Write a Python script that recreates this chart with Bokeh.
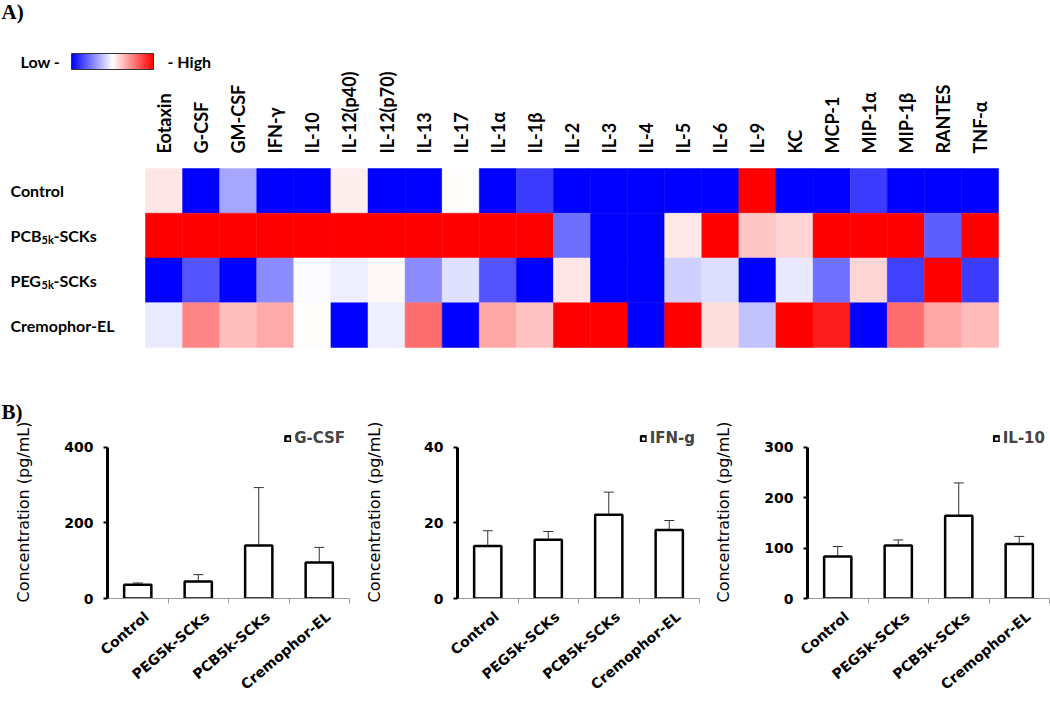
import math
from bokeh.plotting import figure
from bokeh.models import (ColumnDataSource, Range1d, LinearColorMapper, ColorBar,
                          FixedTicker, Label, Whisker, TeeHead, Legend, LegendItem)
from bokeh.layouts import column, row
from bokeh.embed import file_html
from bokeh.resources import INLINE

# ---------------- data ----------------
cytokines = ["Eotaxin", "G-CSF", "GM-CSF", "IFN-\u03b3", "IL-10", "IL-12(p40)", "IL-12(p70)",
             "IL-13", "IL-17", "IL-1\u03b1", "IL-1\u03b2", "IL-2", "IL-3", "IL-4", "IL-5", "IL-6",
             "IL-9", "KC", "MCP-1", "MIP-1\u03b1", "MIP-1\u03b2", "RANTES", "TNF-\u03b1"]
conditions = ["Control", "PCB5k-SCKs", "PEG5k-SCKs", "Cremophor-EL"]
condition_parts = [("Control", "", ""), ("PCB", "5k", "-SCKs"), ("PEG", "5k", "-SCKs"), ("Cremophor-EL", "", "")]

heat_control = [0.1, -1, -0.35, -1, -1, 0.07, -1, -1, 0.01, -1, -0.76,
                -1, -1, -1, -1, -1, 1, -1, -1, -0.76, -1, -1, -1]
heat_pcb = [1, 1, 1, 1, 1, 1, 1, 1, 1, 1, 1,
            -0.57, -1, -1, 0.09, 1, 0.22, 0.17, 1, 1, 1, -0.63, 1]
heat_peg = [-1, -0.67, -1, -0.45, -0.02, -0.07, 0.03, -0.45, -0.12, -0.67, -1,
            0.1, -1, -1, -0.18, -0.13, -1, -0.09, -0.56, 0.16, -0.75, 1, -0.76]
heat_crem = [-0.08, 0.47, 0.25, 0.33, 0.01, -1, -0.07, 0.57, -1, 0.35, 0.24,
             1, 1, -1, 1, 0.13, -0.24, 1, 0.88, -1, 0.57, 0.35, 0.27]

bar_groups = ["Control", "PEG5k-SCKs", "PCB5k-SCKs", "Cremophor-EL"]
gcsf_mean = [36, 45, 140, 95]
gcsf_err = [5, 18, 153, 40]
ifng_mean = [13.9, 15.5, 22.1, 18.1]
ifng_err = [4.0, 2.2, 6.0, 2.5]
il10_mean = [83, 105, 164, 108]
il10_err = [20, 11, 65, 15]

# ---------------- heatmap ----------------
n_cols = len(cytokines)
n_rows = len(conditions)
HM_W, HM_H = 1050, 395
CELL_L, CELL_R, CELL_T, CELL_B = 145, 998, 168, 347   # pixel box of the cell grid
cw = (CELL_R - CELL_L) / n_cols
rh = (CELL_B - CELL_T) / n_rows
xr = Range1d(-CELL_L / cw, n_cols + (HM_W - CELL_R) / cw)
yr = Range1d(-(HM_H - CELL_B) / rh, n_rows + CELL_T / rh)

xs, ys, vs = [], [], []
for r, vals in enumerate([heat_control, heat_pcb, heat_peg, heat_crem]):
    for c, v in enumerate(vals):
        xs.append(c + 0.5)
        ys.append(n_rows - r - 0.5)
        vs.append(v)
hsrc = ColumnDataSource(dict(x=xs, y=ys, v=vs))

palette = []
for i in range(256):
    t = i / 255 * 2 - 1
    if t < 0:
        c = int(round(255 * (1 + t)))
        palette.append("#%02x%02xff" % (c, c))
    else:
        c = int(round(255 * (1 - t)))
        palette.append("#ff%02x%02x" % (c, c))
mapper = LinearColorMapper(palette=palette, low=-1, high=1)

HEAD = "Lato"
hm = figure(width=HM_W, height=HM_H, x_range=xr, y_range=yr,
            x_axis_location=None, y_axis_location=None,
            toolbar_location=None, output_backend="svg",
            min_border=0, outline_line_color=None)
hm.rect(x="x", y="y", width=1, height=1, source=hsrc,
        fill_color={"field": "v", "transform": mapper},
        line_color={"field": "v", "transform": mapper}, line_width=0.5)
hm.grid.visible = False


def hlabel(text, x, y, x_off=0, y_off=0, size="16px", font=HEAD, align="left", baseline="middle", angle=0):
    hm.add_layout(Label(x=x, y=y, x_offset=x_off, y_offset=y_off, text=text, text_font=font,
                        text_font_style="bold", text_font_size=size, text_baseline=baseline,
                        text_align=align, angle=angle, text_color="black"))


# column labels (vertical, above the grid)
for i, name in enumerate(cytokines):
    hlabel(name, i + 0.5, n_rows, y_off=15, size="18px", angle=math.pi / 2)

# row labels (left aligned, with subscripts)
for i, (main, sub, tail) in enumerate(condition_parts):
    yc = n_rows - i - 0.5
    hlabel(main, xr.start, yc, x_off=10)
    if sub:
        hlabel(sub, xr.start, yc, x_off=41, y_off=-4, size="11px")
        hlabel(tail, xr.start, yc, x_off=53)

hlabel("A)", xr.start, yr.end, x_off=1, y_off=1, size="21px", font="Liberation Serif", baseline="top")
hlabel("Low -", xr.start, yr.end, x_off=20, y_off=-61)
hlabel("- High", xr.start, yr.end, x_off=167, y_off=-61)

cb = ColorBar(color_mapper=mapper, orientation="horizontal", location=(71, HM_H - 69), width=82, height=16,
              padding=0, margin=0, ticker=FixedTicker(ticks=[]), major_label_text_font_size="0px",
              major_tick_line_color=None, minor_tick_line_color=None,
              bar_line_color="#333333", bar_line_width=1,
              border_line_color=None, background_fill_alpha=0)
hm.add_layout(cb)

# ---------------- bar panels ----------------
FRAME_TOP, ZERO_Y, AXIS_TOP = 425 - HM_H, 599 - HM_H, 446.7 - HM_H


def bar_panel(name, means, errs, ymax, ticks, label_standoff, add_b=False):
    frame_h = ZERO_Y - FRAME_TOP
    y_end = ymax * frame_h / (ZERO_Y - AXIS_TOP)
    n = len(bar_groups)
    centers = [i + 0.5 for i in range(n)]
    p = figure(width=350, height=306, x_range=Range1d(0, n), y_range=Range1d(0, y_end),
               toolbar_location=None, output_backend="svg",
               min_border_left=107, min_border_right=1, min_border_top=int(FRAME_TOP),
               min_border_bottom=int(306 - ZERO_Y), outline_line_color=None)
    src = ColumnDataSource(dict(x=centers, mean=means, upper=[m + e for m, e in zip(means, errs)]))
    r = p.vbar(x="x", top="mean", width=0.45, source=src, fill_color="white",
               line_color="black", line_width=2.5)
    p.add_layout(Whisker(source=src, base="x", lower="mean", upper="upper", line_color="#333333",
                         line_width=1, lower_head=None,
                         upper_head=TeeHead(size=10, line_color="#333333", line_width=1)))
    leg = Legend(items=[LegendItem(label=name, renderers=[r])], location="top_right",
                 background_fill_alpha=0, border_line_color=None, glyph_width=7, glyph_height=7,
                 label_text_font="DejaVu Sans", label_text_font_style="bold",
                 label_text_font_size="15px", label_standoff=3, padding=2, margin=4, spacing=0,
                 label_height=12)
    p.add_layout(leg)
    p.grid.visible = False

    ya = p.yaxis[0]
    ya.ticker = FixedTicker(ticks=ticks)
    ya.bounds = (0, ymax)
    ya.axis_line_width = 3
    ya.axis_line_color = "black"
    ya.major_tick_line_width = 2
    ya.major_tick_out = 4
    ya.major_tick_in = 0
    ya.minor_tick_line_color = None
    ya.major_label_standoff = 10
    ya.major_label_text_font = "DejaVu Sans"
    ya.major_label_text_font_style = "bold"
    ya.major_label_text_font_size = "14px"
    ya.major_label_text_color = "black"
    ya.axis_label = "Concentration (pg/mL)"
    ya.axis_label_text_font = "DejaVu Sans"
    ya.axis_label_text_font_style = "normal"
    ya.axis_label_text_font_size = "16px"
    ya.axis_label_text_color = "black"
    ya.axis_label_standoff = label_standoff

    label_pos = [c + 0.15 for c in centers]
    xa = p.xaxis[0]
    xa.ticker = FixedTicker(ticks=label_pos, minor_ticks=[i + 1 for i in range(n)])
    xa.major_label_overrides = {c: g for c, g in zip(label_pos, bar_groups)}
    xa.major_tick_line_color = None
    xa.major_tick_out = 0
    xa.major_tick_in = 0
    xa.minor_tick_out = 5
    xa.minor_tick_in = 0
    xa.minor_tick_line_color = "#999999"
    xa.axis_line_color = "#999999"
    xa.axis_line_width = 1
    xa.major_label_orientation = 0.7
    xa.major_label_standoff = 11
    xa.major_label_text_font = "DejaVu Sans"
    xa.major_label_text_font_style = "bold"
    xa.major_label_text_font_size = "14px"
    xa.major_label_text_color = "black"

    if add_b:
        p.title.text = "B)"
        p.title.align = "left"
        p.title.offset = -106
        p.title.standoff = 3
        p.title.text_font = "Liberation Serif"
        p.title.text_font_style = "bold"
        p.title.text_font_size = "21px"
        p.title.text_color = "black"
    return p


b1 = bar_panel("G-CSF", gcsf_mean, gcsf_err, 400, [0, 200, 400], 28, add_b=True)
b2 = bar_panel("IFN-g", ifng_mean, ifng_err, 40, [0, 20, 40], 37)
b3 = bar_panel("IL-10", il10_mean, il10_err, 300, [0, 100, 200, 300], 28)

layout = column(hm, row(b1, b2, b3))

with open("out.html", "w") as f:
    f.write(file_html(layout, INLINE))
